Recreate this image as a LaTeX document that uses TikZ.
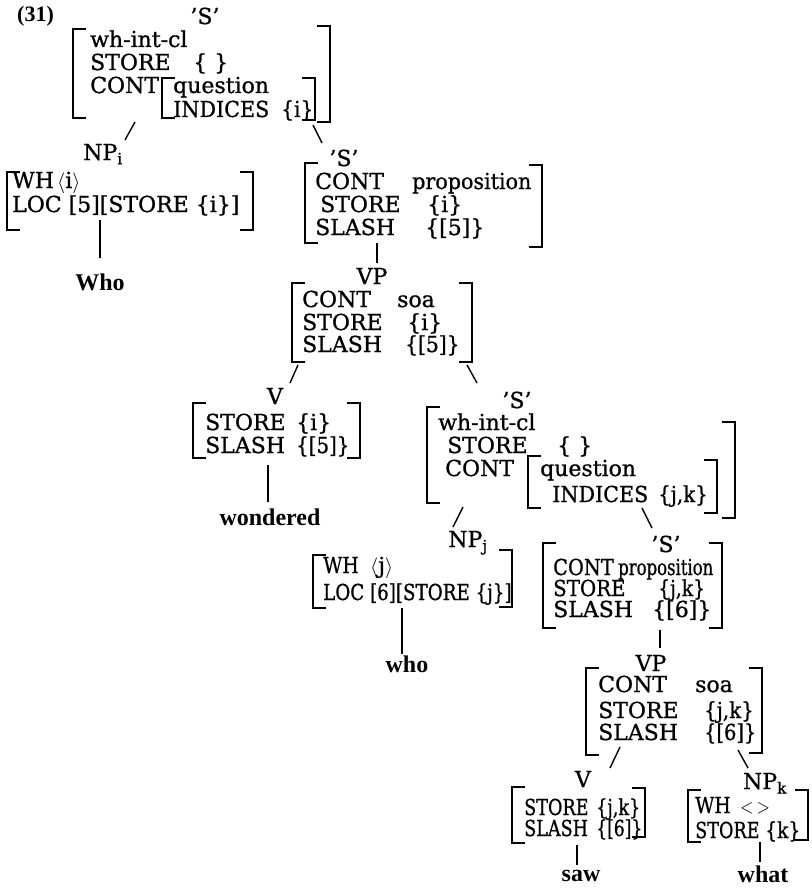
\documentclass[tikz,border=0pt]{standalone}
\usepackage{fontspec}
\usepackage{graphicx}
\setmainfont{DejaVu Serif}[FakeBold=0.9]
\newfontfamily\libfont{Liberation Serif}
\newcommand\cnd[2][0.8]{\scalebox{#1}[1]{#2}}
\newcommand\lb[3]{\draw[brk] (#1+13,#2) -- (#1,#2) -- (#1,#3) -- (#1+13,#3);}
\newcommand\rb[3]{\draw[brk] (#1-13,#2) -- (#1,#2) -- (#1,#3) -- (#1-13,#3);}
\tikzset{
  txt/.style={anchor=base west, inner sep=0pt, font=\fontsize{22}{24}\selectfont},
  lbl/.style={anchor=base, inner sep=0pt, font=\fontsize{22}{24}\selectfont},
  word/.style={anchor=base, inner sep=0pt, font=\libfont\bfseries\fontsize{24}{26}\selectfont},
  brk/.style={line width=1.7pt},
  edge/.style={line width=1.4pt},
}
\begin{document}
\begin{tikzpicture}[x=1pt,y=-1pt]
\useasboundingbox (0,0) rectangle (811,888);

% ---------- top 'S'
\node[anchor=base west, inner sep=0pt, font=\libfont\bfseries\fontsize{22}{24}\selectfont] (ex) at (17,22) {(31)};
\node[lbl] (s1) at (205,24) {'S'};
\lb{73}{29}{118} \rb{330}{26}{122}
\node[txt] (s1a) at (90,47) {wh-int-cl};
\node[txt] (s1b) at (90,70) {STORE};
\node[txt] (s1bv) at (193,70) {\{~\}};
\node[txt] (s1c) at (90,93) {CONT};
\lb{162}{78}{118} \rb{315}{78}{120}
\node[txt] (s1d) at (173,93) {question};
\node[txt] (s1e) at (173,117) {\cnd[0.94]{INDICES}};
\node[txt] (s1ev) at (281,117) {\cnd[0.92]{\{i\}}};
\coordinate (s1L) at (135,122); \coordinate (npiT) at (125,140);
\coordinate (s1R) at (313,125); \coordinate (s2T) at (322,143);
\draw[edge] (s1L) -- (npiT);
\draw[edge] (s1R) -- (s2T);

% ---------- NP_i
\node[lbl] (npi) at (103,160) {NP\textsubscript{i}};
\lb{7}{172}{230} \rb{253}{172}{230}
\node[txt] (npia) at (12,188) {WH};
\node[txt] (npiav) at (57,188) {$\langle$i$\rangle$};
\node[txt] (npib) at (12,212) {LOC [5][STORE \{i\}]};
\coordinate (npiB) at (100,220); \coordinate (whoT) at (100,258);
\draw[edge] (npiB) -- (whoT);
\node[word] (who1) at (100,290) {Who};

% ---------- 'S' 2
\node[lbl] (s2) at (344,166) {'S'};
\lb{305}{163}{243} \rb{542}{165}{247}
\node[txt] (s2a) at (315,189) {CONT};
\node[txt] (s2av) at (412,189) {\cnd[0.94]{proposition}};
\node[txt] (s2b) at (320,212) {STORE};
\node[txt] (s2bv) at (427,212) {\{i\}};
\node[txt] (s2c) at (315,235) {SLASH};
\node[txt] (s2cv) at (425,235) {\{[5]\}};
\coordinate (s2B) at (377,243); \coordinate (vp1T) at (377,263);
\draw[edge] (s2B) -- (vp1T);

% ---------- VP 1
\node[lbl] (vp1) at (372,284) {VP};
\lb{292}{283}{362} \rb{472}{283}{362}
\node[txt] (vp1a) at (302,307) {CONT};
\node[txt] (vp1av) at (397,307) {soa};
\node[txt] (vp1b) at (302,330) {STORE};
\node[txt] (vp1bv) at (407,330) {\{i\}};
\node[txt] (vp1c) at (302,352) {SLASH};
\node[txt] (vp1cv) at (405,352) {\cnd[0.92]{\{[5]\}}};
\coordinate (vp1L) at (298,365); \coordinate (v1T) at (290,383);
\coordinate (vp1R) at (467,365); \coordinate (s3T) at (477,383);
\draw[edge] (vp1L) -- (v1T);
\draw[edge] (vp1R) -- (s3T);

% ---------- V 1
\node[lbl] (v1) at (275,404) {V};
\lb{193}{403}{458} \rb{360}{403}{458}
\node[txt] (v1a) at (205,430) {STORE};
\node[txt] (v1av) at (296,430) {\{i\}};
\node[txt] (v1b) at (205,453) {SLASH};
\node[txt] (v1bv) at (296,453) {\cnd[0.9]{\{[5]\}}};
\coordinate (v1B) at (268,465); \coordinate (wonT) at (268,502);
\draw[edge] (v1B) -- (wonT);
\node[word] (won) at (270,525) {wondered};

% ---------- 'S' 3
\node[lbl] (s3) at (517,408) {'S'};
\lb{427}{407}{503} \rb{735}{422}{518}
\node[txt] (s3a) at (438,430) {wh-int-cl};
\node[txt] (s3b) at (447,453) {STORE};
\node[txt] (s3bv) at (557,453) {\{~\}};
\node[txt] (s3c) at (445,476) {CONT};
\lb{528}{456}{508} \rb{717}{460}{513}
\node[txt] (s3d) at (540,476) {question};
\node[txt] (s3e) at (552,502) {\cnd[0.94]{INDICES}};
\node[txt] (s3ev) at (658,502) {\cnd[0.9]{\{j,k\}}};
\coordinate (s3L) at (463,507); \coordinate (npjT) at (453,527);
\coordinate (s3R) at (642,508); \coordinate (s4T) at (652,528);
\draw[edge] (s3L) -- (npjT);
\draw[edge] (s3R) -- (s4T);

% ---------- NP_j
\node[lbl] (npj) at (468,547) {NP\textsubscript{j}};
\lb{313}{555}{608} \rb{512}{550}{607}
\node[txt] (npja) at (323,573) {\cnd[0.85]{WH}};
\node[txt] (npjav) at (370,573) {$\langle$j$\rangle$};
\node[txt] (npjb) at (323,600) {\cnd[0.83]{LOC [6][STORE \{j\}]}};
\coordinate (npjB) at (402,608); \coordinate (who2T) at (402,654);
\draw[edge] (npjB) -- (who2T);
\node[word] (who2) at (407,672) {who};

% ---------- 'S' 4
\node[lbl] (s4) at (666,552) {'S'};
\lb{543}{543}{628} \rb{722}{543}{628}
\node[txt] (s4a) at (553,575) {\cnd[0.88]{CONT}};
\node[txt] (s4av) at (618,575) {\cnd[0.75]{proposition}};
\node[txt] (s4b) at (553,596) {\cnd[0.9]{STORE}};
\node[txt] (s4bv) at (658,596) {\cnd[0.85]{\{j,k\}}};
\node[txt] (s4c) at (553,617) {SLASH};
\node[txt] (s4cv) at (652,617) {\{[6]\}};
\coordinate (s4B) at (660,630); \coordinate (vp2T) at (660,648);
\draw[edge] (s4B) -- (vp2T);

% ---------- VP 2
\node[lbl] (vp2) at (651,671) {VP};
\lb{586}{668}{755} \rb{762}{668}{753}
\node[txt] (vp2a) at (598,692) {CONT};
\node[txt] (vp2av) at (695,692) {soa};
\node[txt] (vp2b) at (598,718) {STORE};
\node[txt] (vp2bv) at (704,718) {\cnd[0.9]{\{j,k\}}};
\node[txt] (vp2c) at (598,740) {SLASH};
\node[txt] (vp2cv) at (704,740) {\cnd[0.88]{\{[6]\}}};
\coordinate (vp2L) at (620,747); \coordinate (v2T) at (610,768);
\coordinate (vp2R) at (738,750); \coordinate (npkT) at (748,768);
\draw[edge] (vp2L) -- (v2T);
\draw[edge] (vp2R) -- (npkT);

% ---------- V 2
\node[lbl] (v2) at (583,787) {V};
\lb{512}{787}{843} \rb{645}{788}{837}
\node[txt] (v2a) at (524,815) {\cnd[0.8]{STORE}};
\node[txt] (v2av) at (596,815) {\cnd[0.8]{\{j,k\}}};
\node[txt] (v2b) at (524,836) {\cnd[0.8]{SLASH}};
\node[txt] (v2bv) at (596,836) {\cnd[0.78]{\{[6]\}}};
\coordinate (v2B) at (577,845); \coordinate (sawT) at (577,865);
\draw[edge] (v2B) -- (sawT);
\node[word] (saw) at (581,881) {saw};

% ---------- NP_k
\node[lbl] (npk) at (765,789) {NP\textsubscript{k}};
\lb{688}{790}{842} \rb{808}{790}{840}
\node[txt] (npka) at (695,813) {\cnd[0.85]{WH}};
\node[txt] (npkav) at (740,813) {\cnd[0.85]{$<$\,$>$}};
\node[txt] (npkb) at (695,838) {\cnd[0.8]{STORE}};
\node[txt] (npkbv) at (765,838) {\cnd[0.85]{\{k\}}};
\coordinate (npkB) at (760,842); \coordinate (whatT) at (760,862);
\draw[edge] (npkB) -- (whatT);
\node[word] (what) at (763,882) {what};
\end{tikzpicture}
\end{document}
